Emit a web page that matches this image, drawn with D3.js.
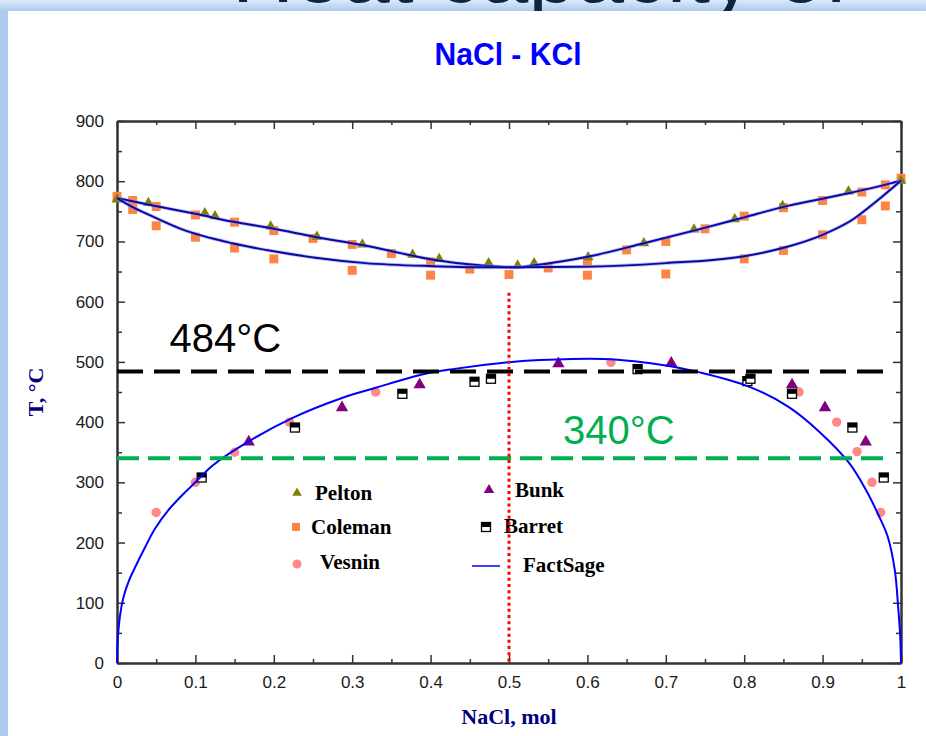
<!DOCTYPE html>
<html>
<head>
<meta charset="utf-8">
<script src="https://cdn.jsdelivr.net/npm/d3@7"></script>
<style>
  html, body { margin: 0; padding: 0; background: #ffffff; }
  svg { display: block; }
</style>
</head>
<body>
<svg id="chart" width="926" height="736"></svg>
<script>
// ---- Axis ticks ----
const xTicks = [0, 0.1, 0.2, 0.3, 0.4, 0.5, 0.6, 0.7, 0.8, 0.9, 1];
const xTickLabels = ["0", "0.1", "0.2", "0.3", "0.4", "0.5", "0.6", "0.7", "0.8", "0.9", "1"];
const xMinorTicks = [0.05, 0.15, 0.25, 0.35, 0.45, 0.55, 0.65, 0.75, 0.85, 0.95];
const yTicks = [0, 100, 200, 300, 400, 500, 600, 700, 800, 900];
const yTickLabels = ["0", "100", "200", "300", "400", "500", "600", "700", "800", "900"];
const yMinorTicks = [50, 150, 250, 350, 450, 550, 650, 750, 850];

// ---- Experimental data: [x(NaCl, mol), T(°C)] ----
const pelton = [
  [0, 770], [0.04, 764], [0.112, 747], [0.125, 742], [0.196, 725], [0.255, 708],
  [0.313, 695], [0.377, 678], [0.411, 671], [0.474, 664], [0.511, 660], [0.532, 664],
  [0.601, 674], [0.672, 697], [0.736, 720], [0.788, 737], [0.849, 759], [0.933, 783],
  [1, 801]
];
const coleman = [
  [0, 775], [0.02, 768], [0.02, 753], [0.05, 758], [0.05, 726], [0.1, 744], [0.1, 707],
  [0.15, 732], [0.15, 689], [0.2, 718], [0.2, 671], [0.25, 705], [0.3, 695], [0.3, 652],
  [0.35, 680], [0.4, 666], [0.4, 644], [0.45, 654], [0.5, 645], [0.55, 656], [0.6, 668],
  [0.6, 644], [0.65, 686], [0.7, 700], [0.7, 646], [0.75, 721], [0.8, 742], [0.8, 671],
  [0.85, 756], [0.85, 685], [0.9, 768], [0.9, 711], [0.95, 782], [0.95, 736],
  [0.98, 794], [0.98, 759], [1, 805]
];
const vesnin = [
  [0.05, 250], [0.1, 300], [0.15, 350], [0.22, 400], [0.33, 450], [0.63, 499],
  [0.87, 450], [0.918, 400], [0.944, 351], [0.963, 300], [0.974, 250]
];
const bunk = [
  [0.168, 367], [0.287, 424], [0.386, 462], [0.563, 497], [0.707, 498],
  [0.861, 462], [0.903, 424], [0.955, 367]
];
const barret = [
  [0.108, 308], [0.227, 391], [0.364, 447], [0.456, 467], [0.477, 472], [0.664, 488],
  [0.804, 468], [0.808, 472], [0.861, 447], [0.938, 391], [0.978, 308]
];

// ---- FactSage calculated curves ----
const liquidus = [
  [0, 772], [0.041, 761], [0.1, 746], [0.147, 733], [0.2, 721], [0.255, 707],
  [0.313, 694], [0.36, 681], [0.402, 670], [0.466, 660], [0.51, 657], [0.53, 660],
  [0.602, 675], [0.672, 697], [0.742, 720], [0.8, 740], [0.849, 757], [0.9, 771],
  [0.933, 780], [0.97, 791], [1, 801]
];
const solidus = [
  [0, 772], [0.02, 757], [0.041, 744], [0.083, 720], [0.147, 697], [0.198, 684],
  [0.253, 673], [0.317, 664], [0.402, 659], [0.487, 657], [0.594, 658], [0.7, 664],
  [0.798, 675], [0.849, 689], [0.9, 711], [0.938, 736], [0.968, 766], [1, 801]
];
const miscibilityGap = [
  [0, 0], [0.001, 40], [0.004, 80], [0.008, 108], [0.015, 136], [0.025, 164],
  [0.035, 190], [0.048, 222], [0.065, 253], [0.085, 281], [0.1, 300], [0.122, 328],
  [0.168, 368], [0.224, 407], [0.287, 440], [0.33, 457], [0.389, 479], [0.428, 488],
  [0.496, 499], [0.54, 503], [0.58, 505], [0.62, 505], [0.66, 501], [0.7, 494],
  [0.742, 483], [0.806, 459], [0.857, 425], [0.895, 385], [0.934, 332], [0.955, 288],
  [0.974, 238], [0.983, 210], [0.992, 155], [0.9966, 89], [0.999, 44], [1, 0]
];

// ---- Reference levels and composition ----
const criticalTemp = 484;   // black dashed
const lowerTemp = 340;      // green dashed
const levelEndX = 0.983;
const equimolarX = 0.5;     // red dotted
const equimolarTop = 615;

const legendItems = ["Pelton", "Coleman", "Vesnin", "Bunk", "Barret", "FactSage"];

// ---- Layout ----
const svg = d3.select("#chart");
const x = d3.scaleLinear().domain([0, 1]).range([117, 901]);
const y = d3.scaleLinear().domain([0, 900]).range([663, 121]);

// slide backdrop with the heading running above the frame
const defs = svg.append("defs");
const grad = defs.append("linearGradient").attr("id", "band").attr("x1", 0).attr("y1", 0).attr("x2", 0).attr("y2", 1);
grad.append("stop").attr("offset", "0%").attr("stop-color", "#dde9f8");
grad.append("stop").attr("offset", "100%").attr("stop-color", "#a9c7ef");
svg.append("rect").attr("x", 0).attr("y", 0).attr("width", 926).attr("height", 12).attr("fill", "url(#band)");
svg.append("text")
  .attr("x", 232).attr("y", 2)
  .attr("font-family", "Liberation Sans, Arial, sans-serif")
  .attr("font-size", 86)
  .attr("fill", "#0c2445")
  .text("Heat capacity of");
svg.append("rect").attr("x", 0).attr("y", 11).attr("width", 8).attr("height", 725).attr("fill", "#adcbf1");
svg.append("rect").attr("x", 8).attr("y", 11).attr("width", 918).attr("height", 725).attr("fill", "#ffffff");

// title
svg.append("text")
  .attr("x", 508).attr("y", 65)
  .attr("text-anchor", "middle")
  .attr("font-family", "Liberation Sans Narrow, Arial Narrow, Liberation Sans, Arial, sans-serif")
  .attr("font-weight", "bold")
  .attr("font-size", 31)
  .attr("textLength", 147)
  .attr("lengthAdjust", "spacingAndGlyphs")
  .attr("fill", "#0000ff")
  .text("NaCl - KCl");

// ---- Axes ----
const axisColor = "#333333";
function styleAxis(g) {
  g.select(".domain").attr("stroke", axisColor).attr("stroke-width", 2);
  g.selectAll(".tick line").attr("stroke", axisColor).attr("stroke-width", 1.5);
  g.selectAll(".tick text")
    .attr("fill", "#1a1a1a")
    .attr("font-family", "Liberation Sans, Arial, sans-serif")
    .attr("font-size", 17);
}

const gBottom = svg.append("g").attr("transform", `translate(0,${y(0)})`)
  .call(d3.axisBottom(x).tickValues(xTicks).tickFormat((d, i) => xTickLabels[i])
    .tickSizeInner(-8).tickSizeOuter(0).tickPadding(13));
styleAxis(gBottom);
const gBottomMinor = svg.append("g").attr("transform", `translate(0,${y(0)})`)
  .call(d3.axisBottom(x).tickValues(xMinorTicks).tickFormat("").tickSizeInner(-4).tickSizeOuter(0));
styleAxis(gBottomMinor);

const gTop = svg.append("g").attr("transform", `translate(0,${y(900)})`)
  .call(d3.axisTop(x).tickValues(xTicks).tickFormat("").tickSizeInner(-8).tickSizeOuter(0));
styleAxis(gTop);
const gTopMinor = svg.append("g").attr("transform", `translate(0,${y(900)})`)
  .call(d3.axisTop(x).tickValues(xMinorTicks).tickFormat("").tickSizeInner(-4).tickSizeOuter(0));
styleAxis(gTopMinor);

const gLeft = svg.append("g").attr("transform", `translate(${x(0)},0)`)
  .call(d3.axisLeft(y).tickValues(yTicks).tickFormat((d, i) => yTickLabels[i])
    .tickSizeInner(-8).tickSizeOuter(0).tickPadding(13));
styleAxis(gLeft);
const gLeftMinor = svg.append("g").attr("transform", `translate(${x(0)},0)`)
  .call(d3.axisLeft(y).tickValues(yMinorTicks).tickFormat("").tickSizeInner(-5).tickSizeOuter(0));
styleAxis(gLeftMinor);

const gRight = svg.append("g").attr("transform", `translate(${x(1)},0)`)
  .call(d3.axisRight(y).tickValues(yTicks).tickFormat("").tickSizeInner(-8).tickSizeOuter(0));
styleAxis(gRight);
const gRightMinor = svg.append("g").attr("transform", `translate(${x(1)},0)`)
  .call(d3.axisRight(y).tickValues(yMinorTicks).tickFormat("").tickSizeInner(-5).tickSizeOuter(0));
styleAxis(gRightMinor);

// axis titles
svg.append("text")
  .attr("x", x(0.5)).attr("y", 724)
  .attr("text-anchor", "middle")
  .attr("font-family", "Liberation Serif, Times New Roman, serif")
  .attr("font-weight", "bold").attr("font-size", 22)
  .attr("fill", "#000080")
  .text("NaCl, mol");
svg.append("text")
  .attr("transform", "translate(43,392) rotate(-90)")
  .attr("text-anchor", "middle")
  .attr("font-family", "Liberation Serif, Times New Roman, serif")
  .attr("font-weight", "bold").attr("font-size", 22)
  .attr("fill", "#000080")
  .text("T, °C");

// ---- Markers ----
const plot = svg.append("g");
function symbols(data, type, size, fill) {
  plot.append("g").selectAll("path").data(data).join("path")
    .attr("transform", d => `translate(${x(d[0])},${y(d[1])})`)
    .attr("d", d3.symbol().type(type).size(size))
    .attr("fill", fill);
}
symbols(coleman, d3.symbolSquare, 80, "#ff8444");
symbols(pelton, d3.symbolTriangle, 50, "#808000");
symbols(vesnin, d3.symbolCircle, 70, "#ff8888");
symbols(bunk, d3.symbolTriangle, 66, "#800080");

function barretMark(g, cx, cy) {
  g.append("rect").attr("x", cx - 4.5).attr("y", cy - 4.5).attr("width", 9).attr("height", 9)
    .attr("fill", "#ffffff").attr("stroke", "#000000").attr("stroke-width", 1.3);
  g.append("rect").attr("x", cx - 4.5).attr("y", cy - 4.5).attr("width", 9).attr("height", 4.5)
    .attr("fill", "#000000");
}
const gBarret = plot.append("g");
barret.forEach(d => barretMark(gBarret, x(d[0]), y(d[1])));

// ---- FactSage curves ----
const line = d3.line().x(d => x(d[0])).y(d => y(d[1])).curve(d3.curveMonotoneX);
const smoothLine = d3.line().x(d => x(d[0])).y(d => y(d[1])).curve(d3.curveCatmullRom.alpha(0.5));
[liquidus, solidus].forEach(c => {
  plot.append("path").attr("d", line(c)).attr("fill", "none")
    .attr("stroke", "#8a8aff").attr("stroke-width", 3.6).attr("stroke-opacity", 0.55);
  plot.append("path").attr("d", line(c)).attr("fill", "none")
    .attr("stroke", "#0a0a9c").attr("stroke-width", 2);
});
plot.append("path").attr("d", smoothLine(miscibilityGap)).attr("fill", "none")
  .attr("stroke", "#0000ff").attr("stroke-width", 2);

// ---- Reference lines ----
plot.append("line")
  .attr("x1", x(0)).attr("x2", x(levelEndX))
  .attr("y1", y(criticalTemp)).attr("y2", y(criticalTemp))
  .attr("stroke", "#000000").attr("stroke-width", 4).attr("stroke-dasharray", "26,11");
plot.append("line")
  .attr("x1", x(0)).attr("x2", x(levelEndX))
  .attr("y1", y(lowerTemp)).attr("y2", y(lowerTemp))
  .attr("stroke", "#00b050").attr("stroke-width", 4).attr("stroke-dasharray", "22,9");

svg.append("text")
  .attr("x", x(0.067)).attr("y", y(criticalTemp) - 20)
  .attr("font-family", "Liberation Sans, Arial, sans-serif")
  .attr("font-size", 40).attr("fill", "#000000")
  .text(criticalTemp + "°C");
svg.append("text")
  .attr("x", x(0.569)).attr("y", y(lowerTemp) - 14)
  .attr("font-family", "Liberation Sans, Arial, sans-serif")
  .attr("font-size", 40).attr("fill", "#00b050")
  .text(lowerTemp + "°C");

// ---- Legend ----
const legend = svg.append("g")
  .attr("font-family", "Liberation Serif, Times New Roman, serif")
  .attr("font-weight", "bold").attr("font-size", 21).attr("fill", "#000000");
legend.append("path").attr("transform", "translate(297,493)")
  .attr("d", d3.symbol().type(d3.symbolTriangle).size(40)).attr("fill", "#808000");
legend.append("text").attr("x", 315).attr("y", 500).text(legendItems[0]);
legend.append("path").attr("transform", "translate(296,527)")
  .attr("d", d3.symbol().type(d3.symbolSquare).size(64)).attr("fill", "#ff8444");
legend.append("text").attr("x", 311).attr("y", 534).text(legendItems[1]);
legend.append("path").attr("transform", "translate(297,564)")
  .attr("d", d3.symbol().type(d3.symbolCircle).size(64)).attr("fill", "#ff8888");
legend.append("text").attr("x", 320).attr("y", 569).text(legendItems[2]);
legend.append("path").attr("transform", "translate(489,490)")
  .attr("d", d3.symbol().type(d3.symbolTriangle).size(48)).attr("fill", "#800080");
legend.append("text").attr("x", 515).attr("y", 497).text(legendItems[3]);
barretMark(legend.append("g"), 486, 527);
legend.append("text").attr("x", 504).attr("y", 533).text(legendItems[4]);
legend.append("line").attr("x1", 472).attr("x2", 500).attr("y1", 566).attr("y2", 566)
  .attr("stroke", "#0000ff").attr("stroke-width", 1.5);
legend.append("text").attr("x", 523).attr("y", 572).text(legendItems[5]);

// equimolar composition marker
svg.append("line")
  .attr("x1", x(equimolarX)).attr("x2", x(equimolarX))
  .attr("y1", y(equimolarTop)).attr("y2", y(0))
  .attr("stroke", "#ff0000").attr("stroke-width", 3).attr("stroke-dasharray", "3,3.2");
</script>
</body>
</html>
